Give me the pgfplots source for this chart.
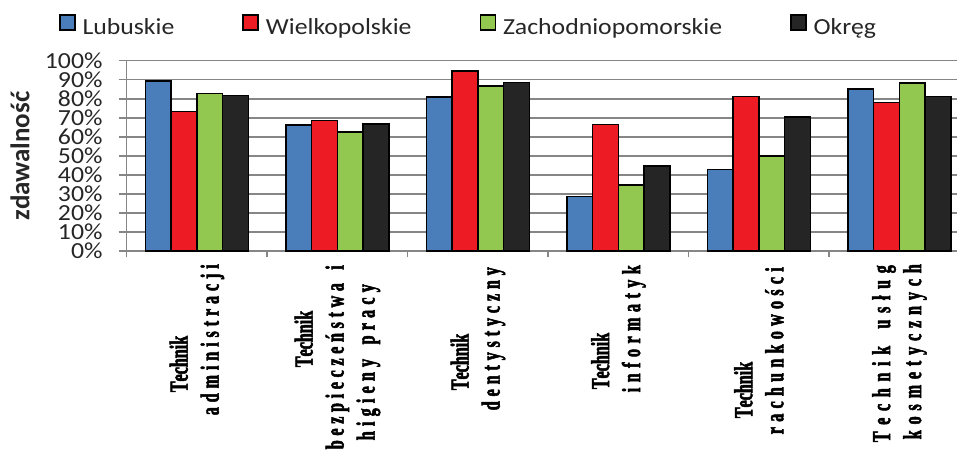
\documentclass[border=0pt]{standalone}
\usepackage{pgfplots}
\pgfplotsset{compat=1.18}
\usepackage{fontspec}
\setmainfont{Carlito}
\newfontfamily\tickfont{Carlito}[FakeStretch=1.12]
\newfontfamily\catfont{Liberation Serif}[FakeStretch=0.62,FakeBold=2]
\newcommand{\cf}{\catfont\bfseries\fontsize{26bp}{31bp}\selectfont}
\def\spr#1{#1\sprr}
\def\sprr#1{\ifx#1\relax\else\hfil#1\expandafter\sprr\fi}
\newcommand{\cl}[3]{\hbox{\cf\makebox[#1bp][s]{\spr#3\relax}\kern#2bp}}
\definecolor{cBlue}{HTML}{4A7EBB}
\definecolor{cRed}{HTML}{ED1C24}
\definecolor{cGreen}{HTML}{92C850}
\definecolor{cBlack}{HTML}{252525}
\definecolor{gridc}{HTML}{868686}
\definecolor{txt}{HTML}{262626}
\begin{document}
\begin{tikzpicture}
\begin{axis}[
  scale only axis,
  width=830.3bp, height=190.3bp,
  xmin=-0.5, xmax=5.41,
  ymin=0, ymax=100,
  axis lines*=left,
  axis line style={gridc, line width=1.5bp},
  ymajorgrids,
  grid style={gridc, line width=1.5bp},
  tick align=outside,
  ytick={0,10,...,100},
  yticklabels={0\%,10\%,20\%,30\%,40\%,50\%,60\%,70\%,80\%,90\%,100\%},
  yticklabel style={font=\tickfont\fontsize{23bp}{23bp}\selectfont, text=txt, anchor=east, inner sep=0pt, xshift=-16bp},
  ytick style={gridc, line width=1.5bp},
  major tick length=8bp,
  minor tick length=6bp,
  xtick={0,...,5},
  minor xtick={-0.5,0.5,...,4.5},
  major x tick style={draw=none},
  minor x tick style={gridc, line width=1.5bp},
  xticklabels={
    {\cl{55}{73}{Technik}\\\cl{151}{0}{administracji}},
    {\cl{55}{48}{Technik}\\\cl{184}{1}{bezpieczeństwa~i}\\\cl{156}{20}{higieny~pracy}},
    {\cl{53}{73}{Technik}\\\cl{143}{3}{dentystyczny}},
    {\cl{55}{70}{Technik}\\\cl{127}{1}{informatyk}},
    {\cl{54}{100}{Technik}\\\cl{167}{3}{rachunkowości}},
    {\cl{177}{1}{Technik~usług}\\\cl{175}{0}{kosmetycznych}}
  },
  xticklabel style={yshift=-5bp, rotate=90, anchor=east, align=right, inner sep=0pt,
    font=\cf, text=black},
  ylabel={zdawalność},
  ylabel style={at={(axis description cs:-0.1285,0.5)}, anchor=center, rotate=0,
    font=\bfseries\fontsize{27bp}{27bp}\selectfont, text=txt},
  ybar=0pt,
  bar width=25.7bp,
  legend columns=4,
  legend style={at={(rel axis cs:-0.0815,1.1876)}, anchor=west, draw=none, fill=none,
    inner sep=0pt, outer sep=0pt,
    font=\tickfont\fontsize{23bp}{23bp}\selectfont, text=txt,
    nodes={inner sep=0pt},
    /tikz/every odd column/.append style={column sep=7bp},
    /tikz/every even column/.append style={column sep=68bp}},
  legend image code/.code={\draw[#1, line width=1.5bp] (0bp,-2.5bp) rectangle (15bp,12.5bp);},
]
\addplot[fill=cBlue, draw=black, line width=1.5bp] coordinates {(0,89.3) (1,66.2) (2,80.9) (3,28.6) (4,42.8) (5,85.1)};
\addplot[fill=cRed, draw=black, line width=1.5bp] coordinates {(0,73.4) (1,68.6) (2,94.7) (3,66.5) (4,81.3) (5,78.1)};
\addplot[fill=cGreen, draw=black, line width=1.5bp] coordinates {(0,82.8) (1,62.6) (2,86.7) (3,34.7) (4,50.0) (5,88.4)};
\addplot[fill=cBlack, draw=black, line width=1.5bp] coordinates {(0,81.6) (1,66.8) (2,88.6) (3,44.6) (4,70.5) (5,81.1)};
\legend{Lubuskie,Wielkopolskie,Zachodniopomorskie,Okręg}
\coordinate (BL) at (rel axis cs:-0.15259,-1.0615);
\coordinate (TR) at (rel axis cs:1,1.3190);
\end{axis}
\pgfresetboundingbox
\path[use as bounding box] (BL) rectangle (TR);
\end{tikzpicture}
\end{document}
